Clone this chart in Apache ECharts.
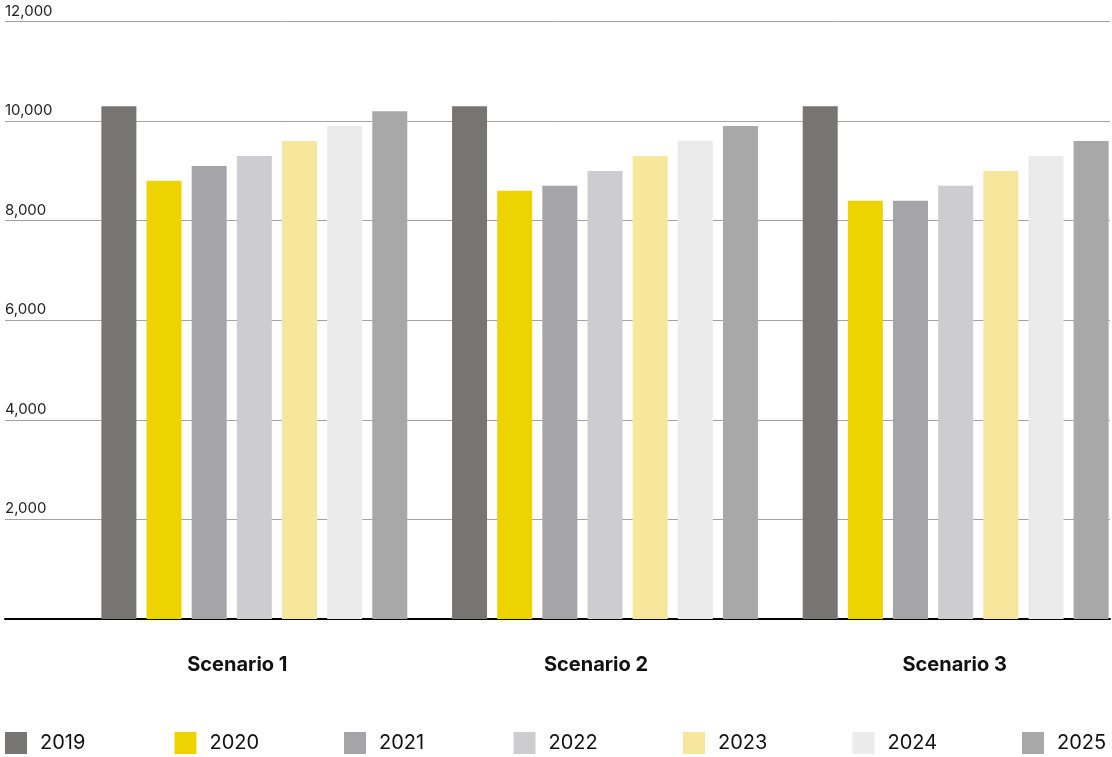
<!DOCTYPE html>
<html>
<head>
<meta charset="utf-8">
<script src="https://cdn.jsdelivr.net/npm/echarts@6/dist/echarts.min.js"></script>
<style>
html,body{margin:0;padding:0;background:#fff;}
#chart{width:1112px;height:757px;}
</style>
</head>
<body>
<div id="chart"></div>
<script>
const categories = ['Scenario 1', 'Scenario 2', 'Scenario 3'];
const years = ['2019', '2020', '2021', '2022', '2023', '2024', '2025'];
const v2019 = [10300, 10300, 10300];
const v2020 = [8800, 8600, 8400];
const v2021 = [9100, 8700, 8400];
const v2022 = [9300, 9000, 8700];
const v2023 = [9600, 9300, 9000];
const v2024 = [9900, 9600, 9300];
const v2025 = [10200, 9900, 9600];
const seriesValues = [v2019, v2020, v2021, v2022, v2023, v2024, v2025];
const colors = ['#767573', '#EDD400', '#A5A4A8', '#CDCCCE', '#F6E79C', '#EBEBEB', '#A8A8A9'];
const yTicks = [0, 2000, 4000, 6000, 8000, 10000, 12000];

const FONT = 'Inter';
const chart = echarts.init(document.getElementById('chart'), null, {renderer: 'canvas'});

const TOP = 21.5, HEIGHT = 597.5;

const legends = years.map((y, i) => ({
  left: 5 + i * 169.5,
  top: 732,
  padding: 0,
  itemWidth: 22,
  itemHeight: 22,
  icon: 'rect',
  selectedMode: false,
  data: [y],
  textStyle: {fontFamily: FONT, fontSize: 20, color: '#111', padding: [0, 0, 0, 8]}
}));

const option = {
  backgroundColor: '#fff',
  animation: false,
  legend: legends,
  grid: [
    {left: 5, width: 1105, top: TOP, height: HEIGHT, outerBoundsMode: 'none', containLabel: false},
    {left: 79, width: 1052, top: TOP, height: HEIGHT, outerBoundsMode: 'none', containLabel: false},
    {left: 58, width: 1076, top: TOP, height: HEIGHT, outerBoundsMode: 'none', containLabel: false}
  ],
  xAxis: [
    {type: 'category', gridIndex: 0, data: categories,
     axisLine: {show: true, lineStyle: {color: '#000', width: 2}},
     axisTick: {show: false}, axisLabel: {show: false}, splitLine: {show: false}},
    {type: 'category', gridIndex: 1, data: categories,
     axisLine: {show: false}, axisTick: {show: false}, axisLabel: {show: false}},
    {type: 'category', gridIndex: 2, data: categories,
     axisLine: {show: false}, axisTick: {show: false},
     axisLabel: {show: true, margin: 36, fontFamily: FONT, fontSize: 20, fontWeight: 'bold', color: '#111'}}
  ],
  yAxis: [
    {type: 'value', gridIndex: 0, min: yTicks[0], max: yTicks[yTicks.length - 1], interval: 2000,
     axisLine: {show: false}, axisTick: {show: false},
     splitLine: {show: true, lineStyle: {color: '#a3a3a3', width: 1}},
     axisLabel: {show: true, inside: true, margin: 0, showMinLabel: false,
       verticalAlign: 'bottom', align: 'left', padding: [0, 0, 3, 0],
       fontFamily: FONT, fontSize: 15, color: '#222',
       formatter: v => v === 0 ? '' : v.toLocaleString('en-US')}},
    {type: 'value', gridIndex: 1, min: yTicks[0], max: yTicks[yTicks.length - 1], interval: 2000,
     axisLine: {show: false}, axisTick: {show: false}, splitLine: {show: false}, axisLabel: {show: false}},
    {type: 'value', gridIndex: 2, min: yTicks[0], max: yTicks[yTicks.length - 1], interval: 2000,
     axisLine: {show: false}, axisTick: {show: false}, splitLine: {show: false}, axisLabel: {show: false}}
  ],
  series: years.map((y, i) => ({
    name: y,
    type: 'bar',
    xAxisIndex: 1,
    yAxisIndex: 1,
    data: seriesValues[i],
    barWidth: 35,
    barGap: '29%',
    itemStyle: {color: colors[i]},
    z: 3
  }))
};
chart.setOption(option);
</script>
</body>
</html>
